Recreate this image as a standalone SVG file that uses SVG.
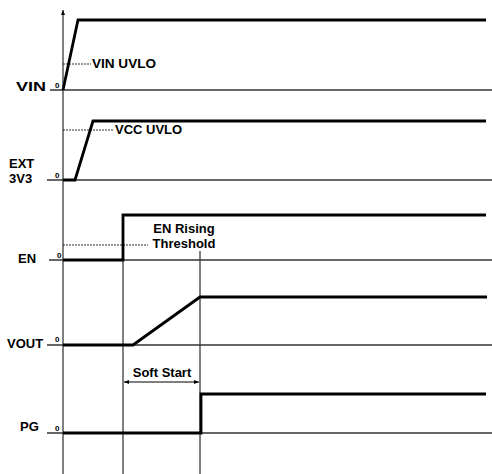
<svg xmlns="http://www.w3.org/2000/svg" width="492" height="474" viewBox="0 0 492 474">
<style>
.lbl{font-family:"Liberation Sans",Arial,sans-serif;font-weight:bold;font-size:13px;fill:#000}
.zero{font-family:"Liberation Sans",Arial,sans-serif;font-weight:bold;font-size:8px;fill:#000}
.base{stroke:#333;stroke-width:1.3;fill:none}
.wave{stroke:#000;stroke-width:2.8;fill:none;stroke-linejoin:miter}
.thin{stroke:#000;stroke-width:1;fill:none}
.dash{stroke:#000;stroke-width:0.8;stroke-dasharray:2,1;fill:none}
</style>
<defs>
<marker id="ah" markerWidth="6" markerHeight="6" refX="5" refY="3" orient="auto" markerUnits="userSpaceOnUse">
<path d="M0,1 L5,3 L0,5 Z" fill="#000"/>
</marker>
<marker id="as" markerWidth="6" markerHeight="6" refX="1" refY="3" orient="auto" markerUnits="userSpaceOnUse">
<path d="M6,1 L1,3 L6,5 Z" fill="#000"/>
</marker>
</defs>
<rect width="492" height="474" fill="#fff"/>
<g id="connectors">
<line class="thin" x1="63" y1="474" x2="63" y2="10" marker-end="url(#ah)"/>
<line class="thin" x1="123" y1="260" x2="123" y2="474"/>
<line class="thin" x1="200" y1="251" x2="200" y2="474"/>
<line class="thin" x1="124" y1="382" x2="199" y2="382" marker-start="url(#as)" marker-end="url(#ah)"/>
</g>
<g id="vin">
<line class="base" x1="50" y1="90" x2="492" y2="90"/>
<text class="lbl" x="16" y="91" textLength="30" lengthAdjust="spacingAndGlyphs">VIN</text>
<text class="zero" x="55" y="88">0</text>
<polyline class="wave" points="63,90 78,20 486,20"/>
<line class="dash" x1="63" y1="64" x2="91" y2="64"/>
<text class="lbl" x="92" y="68" textLength="64" lengthAdjust="spacingAndGlyphs">VIN UVLO</text>
</g>
<g id="ext3v3">
<line class="base" x1="47" y1="180" x2="492" y2="180"/>
<text class="lbl" x="9" y="168">EXT</text>
<text class="lbl" x="9" y="183">3V3</text>
<text class="zero" x="55" y="178">0</text>
<polyline class="wave" points="63,180 75,180 93,121 486,121"/>
<line class="dash" x1="63" y1="130" x2="113" y2="130"/>
<text class="lbl" x="115" y="134">VCC UVLO</text>
</g>
<g id="en">
<line class="base" x1="49" y1="260" x2="492" y2="260"/>
<text class="lbl" x="18" y="263">EN</text>
<text class="zero" x="57" y="258">0</text>
<polyline class="wave" points="63,260 123,260 123,215 486,215"/>
<line class="dash" x1="63" y1="245" x2="148" y2="245"/>
<text class="lbl" x="184" y="233" text-anchor="middle">EN Rising</text>
<text class="lbl" x="184" y="248" text-anchor="middle">Threshold</text>
</g>
<g id="vout">
<line class="base" x1="47" y1="345" x2="492" y2="345"/>
<text class="lbl" x="7" y="348">VOUT</text>
<text class="zero" x="55" y="342">0</text>
<polyline class="wave" points="63,345 133,345 200,297 487,297"/>
<text class="lbl" x="162" y="377" text-anchor="middle">Soft Start</text>
</g>
<g id="pg">
<line class="base" x1="47" y1="433" x2="492" y2="433"/>
<text class="lbl" x="20" y="431">PG</text>
<text class="zero" x="55" y="431">0</text>
<polyline class="wave" points="63,433 201,433 201,394 486,394"/>
</g>
</svg>
